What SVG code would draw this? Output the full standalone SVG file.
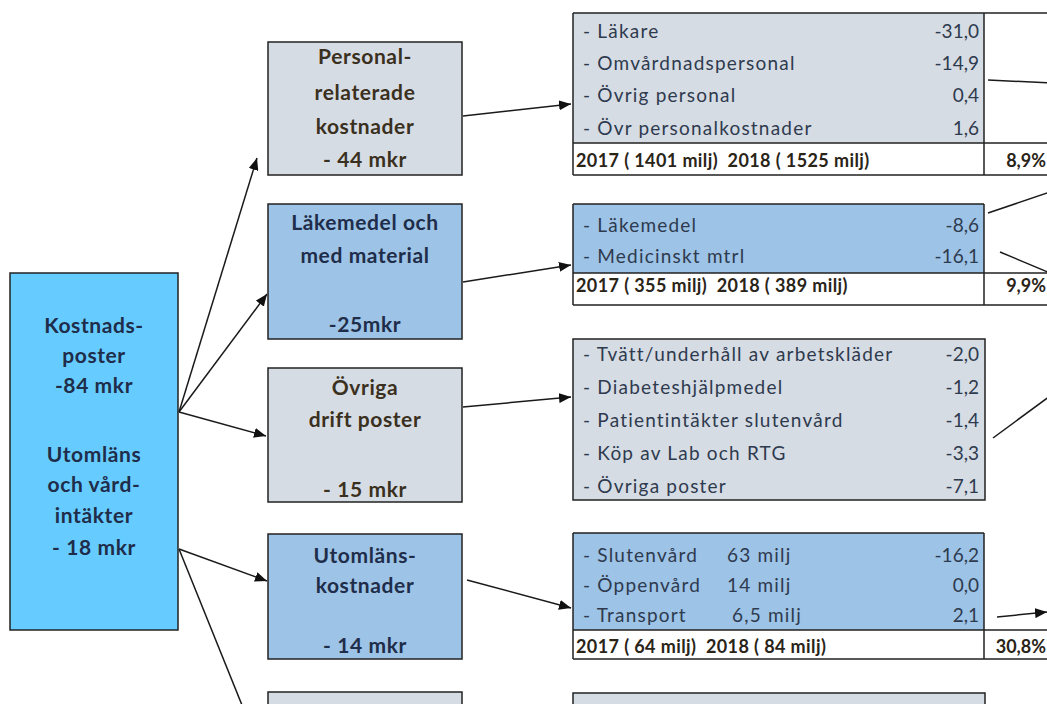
<svg xmlns="http://www.w3.org/2000/svg" width="1047" height="704" viewBox="0 0 1047 704">
<defs>
<marker id="ah" viewBox="0 0 12 10" refX="12" refY="5" markerWidth="12" markerHeight="10" markerUnits="userSpaceOnUse" orient="auto">
<path d="M0,0 L12,5 L0,10 z" fill="#111"/>
</marker>
<style>
.bx{stroke:#222;stroke-width:1.5}
.grey{fill:#D6DCE4}
.blue{fill:#9DC3E6}
.sky{fill:#66CCFF}
.ln{stroke:#222;stroke-width:1.5;fill:none}
.c{stroke:#1a1a1a;stroke-width:1.5;fill:none}
.ca{stroke:#1a1a1a;stroke-width:1.5;fill:none;marker-end:url(#ah)}
.h{font-family:Lato,"Liberation Sans",sans-serif;font-weight:bold;font-size:21px;letter-spacing:0.6px;text-anchor:middle}
.hg{fill:#3A3020}
.hb{fill:#1F2D4A}
.r{font-family:Lato,"Liberation Sans",sans-serif;font-size:19px;letter-spacing:1.2px;fill:#2E3A4E}
.v{font-family:Lato,"Liberation Sans",sans-serif;font-size:19px;fill:#2E3A4E;text-anchor:end}
.s{font-family:Lato,"Liberation Sans",sans-serif;font-size:18px;font-weight:bold;letter-spacing:0.4px;fill:#2A2418;white-space:pre}
.p{font-family:Lato,"Liberation Sans",sans-serif;font-size:18px;font-weight:bold;fill:#2A2418;text-anchor:end}
</style>
</defs>
<rect width="1047" height="704" fill="#FFFFFF"/>

<g id="connectors">
<line class="ca" x1="179" y1="412" x2="257" y2="158"/>
<line class="ca" x1="179" y1="412" x2="267" y2="294"/>
<line class="ca" x1="179" y1="412" x2="266" y2="436"/>
<line class="ca" x1="179" y1="549" x2="267" y2="581"/>
<line class="c" x1="179" y1="549" x2="248" y2="720"/>
<line class="ca" x1="463" y1="116" x2="571" y2="104"/>
<line class="ca" x1="463" y1="282" x2="571" y2="265"/>
<line class="ca" x1="463" y1="407" x2="571" y2="397"/>
<line class="ca" x1="467" y1="580" x2="571" y2="608"/>
<line class="c" x1="988" y1="80" x2="1050" y2="83"/>
<line class="c" x1="988" y1="213" x2="1050" y2="192"/>
<line class="c" x1="1000" y1="252" x2="1050" y2="273"/>
<line class="c" x1="993" y1="438" x2="1050" y2="396"/>
<line class="ca" x1="997" y1="617" x2="1047" y2="612"/>
</g>

<g id="kostnadsposter">
<rect class="bx sky" x="10" y="273" width="168" height="357"/>
<text class="h hb" x="94" y="333">Kostnads-</text>
<text class="h hb" x="94" y="363">poster</text>
<text class="h hb" x="94" y="393">-84 mkr</text>
<text class="h hb" x="94" y="462">Utomläns</text>
<text class="h hb" x="94" y="492">och vård-</text>
<text class="h hb" x="94" y="523">intäkter</text>
<text class="h hb" x="94" y="555">- 18 mkr</text>
</g>

<g id="personal">
<rect class="bx grey" x="268" y="42" width="194" height="133"/>
<text class="h hg" x="365" y="64">Personal-</text>
<text class="h hg" x="365" y="100">relaterade</text>
<text class="h hg" x="365" y="134">kostnader</text>
<text class="h hg" x="365" y="167">- 44 mkr</text>
</g>

<g id="lakemedel">
<rect class="bx blue" x="268" y="204" width="194" height="135"/>
<text class="h hb" x="365" y="230">Läkemedel och</text>
<text class="h hb" x="365" y="263">med material</text>
<text class="h hb" x="365" y="332">-25mkr</text>
</g>

<g id="ovriga">
<rect class="bx grey" x="268" y="368" width="194" height="134"/>
<text class="h hg" x="365" y="395">Övriga</text>
<text class="h hg" x="365" y="427">drift poster</text>
<text class="h hg" x="365" y="497">- 15 mkr</text>
</g>

<g id="utomlans">
<rect class="bx blue" x="268" y="534" width="194" height="125"/>
<text class="h hb" x="365" y="563">Utomläns-</text>
<text class="h hb" x="365" y="593">kostnader</text>
<text class="h hb" x="365" y="653">- 14 mkr</text>
</g>

<g id="intakter">
<rect class="bx grey" x="268" y="692" width="194" height="30"/>
</g>

<g id="tabell-personal">
<rect class="grey" x="573" y="13" width="411" height="130"/>
<path class="ln" d="M573,13 H1050 M573,143 H1050 M573,175 H1050 M573,13 V175 M984,13 V175"/>
<text class="r" x="583" y="38">- Läkare</text>
<text class="r" x="583" y="70">- Omvårdnadspersonal</text>
<text class="r" x="583" y="102">- Övrig personal</text>
<text class="r" x="583" y="135">- Övr personalkostnader</text>
<text class="v" x="979" y="38">-31,0</text>
<text class="v" x="979" y="70">-14,9</text>
<text class="v" x="979" y="102">0,4</text>
<text class="v" x="979" y="135">1,6</text>
<text class="s" x="576" y="167" xml:space="preserve">2017 ( 1401 milj)  2018 ( 1525 milj)</text>
<text class="p" x="1046" y="167">8,9%</text>
</g>

<g id="tabell-lakemedel">
<rect class="blue" x="573" y="204" width="411" height="69"/>
<path class="ln" d="M573,204 H984 M573,273 H1050 M573,305 H1050 M573,204 V305 M984,204 V305"/>
<text class="r" x="583" y="232">- Läkemedel</text>
<text class="r" x="583" y="263">- Medicinskt mtrl</text>
<text class="v" x="979" y="232">-8,6</text>
<text class="v" x="979" y="263">-16,1</text>
<text class="s" x="576" y="292" xml:space="preserve">2017 ( 355 milj)  2018 ( 389 milj)</text>
<text class="p" x="1046" y="292">9,9%</text>
</g>

<g id="tabell-ovriga">
<rect class="bx grey" x="573" y="339" width="412" height="161"/>
<text class="r" x="583" y="361">- Tvätt/underhåll av arbetskläder</text>
<text class="r" x="583" y="394">- Diabeteshjälpmedel</text>
<text class="r" x="583" y="427">- Patientintäkter slutenvård</text>
<text class="r" x="583" y="460">- Köp av Lab och RTG</text>
<text class="r" x="583" y="493">- Övriga poster</text>
<text class="v" x="979" y="361">-2,0</text>
<text class="v" x="979" y="394">-1,2</text>
<text class="v" x="979" y="427">-1,4</text>
<text class="v" x="979" y="460">-3,3</text>
<text class="v" x="979" y="493">-7,1</text>
</g>

<g id="tabell-utomlans">
<rect class="blue" x="573" y="533" width="411" height="97"/>
<path class="ln" d="M573,533 H984 M573,630 H1050 M573,659 H1050 M573,533 V659 M984,533 V659"/>
<text class="r" x="583" y="562">- Slutenvård</text>
<text class="r" x="727" y="562">63 milj</text>
<text class="r" x="583" y="592">- Öppenvård</text>
<text class="r" x="727" y="592">14 milj</text>
<text class="r" x="583" y="622">- Transport</text>
<text class="r" x="732" y="622">6,5 milj</text>
<text class="v" x="979" y="562">-16,2</text>
<text class="v" x="979" y="592">0,0</text>
<text class="v" x="979" y="622">2,1</text>
<text class="s" x="576" y="653" xml:space="preserve">2017 ( 64 milj)  2018 ( 84 milj)</text>
<text class="p" x="1046" y="653">30,8%</text>
</g>

<g id="tabell-intakter">
<rect class="bx grey" x="573" y="693" width="412" height="30"/>
</g>
</svg>
